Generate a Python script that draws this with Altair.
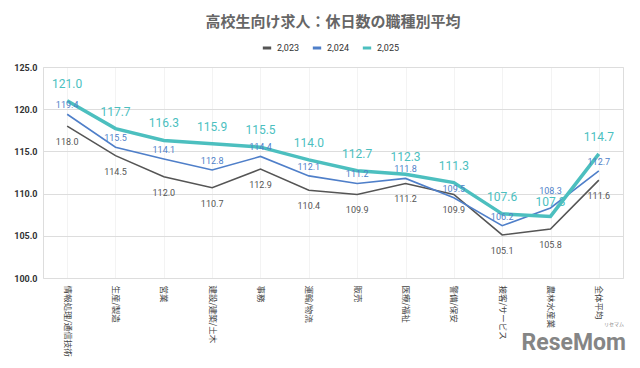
import altair as alt
import pandas as pd

categories = ["情報処理/通信技術", "生産/製造", "営業", "建設/建築/土木", "事務", "運輸/物流",
              "販売", "医療/福祉", "警備/保安", "接客/サービス", "農林水産業", "全体平均"]
series_names = ["2,023", "2,024", "2,025"]
v2023 = [118.0, 114.5, 112.0, 110.7, 112.9, 110.4, 109.9, 111.2, 109.9, 105.1, 105.8, 111.6]
v2024 = [119.4, 115.5, 114.1, 112.8, 114.4, 112.1, 111.2, 111.8, 109.5, 106.2, 108.3, 112.7]
v2025 = [121.0, 117.7, 116.3, 115.9, 115.5, 114.0, 112.7, 112.3, 111.3, 107.6, 107.3, 114.7]
colors = ["#555555", "#4f7fc9", "#4cbfbf"]
widths = [1.6, 1.6, 3.5]

rows = []
for name, vals in zip(series_names, [v2023, v2024, v2025]):
    for i, (c, v) in enumerate(zip(categories, vals)):
        rows.append({"職種": c, "series": name, "value": v, "order": i})
df = pd.DataFrame(rows)

FONT = "Noto Sans CJK JP"
x = alt.X("職種:N", sort=categories, title=None,
          axis=alt.Axis(labelAngle=90, labelAlign="left", labelBaseline="middle",
                        labelFont=FONT, labelFontSize=8.5, labelColor="#444",
                        domain=False, ticks=False, grid=True, gridColor="#f3f3f3",
                        labelPadding=7))
y = alt.Y("value:Q", scale=alt.Scale(domain=[100, 125], nice=False, zero=False), title=None,
          axis=alt.Axis(values=[100, 105, 110, 115, 120, 125], format=".1f",
                        labelFont="Roboto", labelFontSize=9, labelFontWeight="bold",
                        labelColor="#333", domain=False, ticks=False,
                        gridColor="#dddddd", labelPadding=6))
color = alt.Color("series:N", scale=alt.Scale(domain=series_names, range=colors),
                  legend=alt.Legend(title=None, orient="none", direction="horizontal",
                                    legendX=218, legendY=-25,
                                    symbolType="stroke", symbolStrokeWidth=3, symbolSize=70,
                                    labelFont="Roboto", labelFontSize=9, labelColor="#333",
                                    labelOffset=4, columnPadding=6))

def line(name, w):
    return alt.Chart(df).transform_filter(alt.datum.series == name).mark_line(
        strokeWidth=w).encode(x=x, y=y, color=color, order="order:Q")

lines = [line(n, w) for n, w in zip(series_names, widths)]

def labels(name, dy, size, col, exclude=None, only=None):
    ch = alt.Chart(df).transform_filter(alt.datum.series == name)
    if exclude:
        ch = ch.transform_filter(alt.datum["職種"] != exclude)
    if only:
        ch = ch.transform_filter(alt.datum["職種"] == only)
    return ch.mark_text(dy=dy, fontSize=size, font="Roboto", color=col).encode(
        x=alt.X("職種:N", sort=categories),
        y="value:Q", text=alt.Text("value:Q", format=".1f"))

l23 = labels("2,023", 16, 9, "#555555")
l24 = labels("2,024", -9, 9, "#4f7fc9", exclude="農林水産業")
l24b = labels("2,024", -17, 9, "#4f7fc9", only="農林水産業")
l25 = labels("2,025", -17, 12, "#4cbfbf", exclude="農林水産業")
l25b = labels("2,025", -14, 12, "#4cbfbf", only="農林水産業")

logo = alt.Chart(pd.DataFrame({"t": ["ReseMom"]})).mark_text(
    font="Roboto", fontSize=23, fontWeight="bold", color="#858585", align="right",
    baseline="middle").encode(x=alt.value(583), y=alt.value(276), text="t:N")
logo_small = alt.Chart(pd.DataFrame({"t": ["リセマム"]})).mark_text(
    font=FONT, fontSize=5, color="#888888", align="center",
    baseline="middle").encode(x=alt.value(571), y=alt.value(257), text="t:N")

chart = alt.layer(*lines, l23, l24, l24b, l25, l25b, logo, logo_small).properties(
    width=580, height=211,
    title=alt.TitleParams("高校生向け求人：休日数の職種別平均", font=FONT, fontSize=15,
                          color="#666666", fontWeight="bold", offset=12),
).configure_view(stroke=None).configure(padding={"left": 5, "top": 7, "right": 5, "bottom": 5})

chart.save("out.html", embed_options={"renderer": "svg", "actions": False})
